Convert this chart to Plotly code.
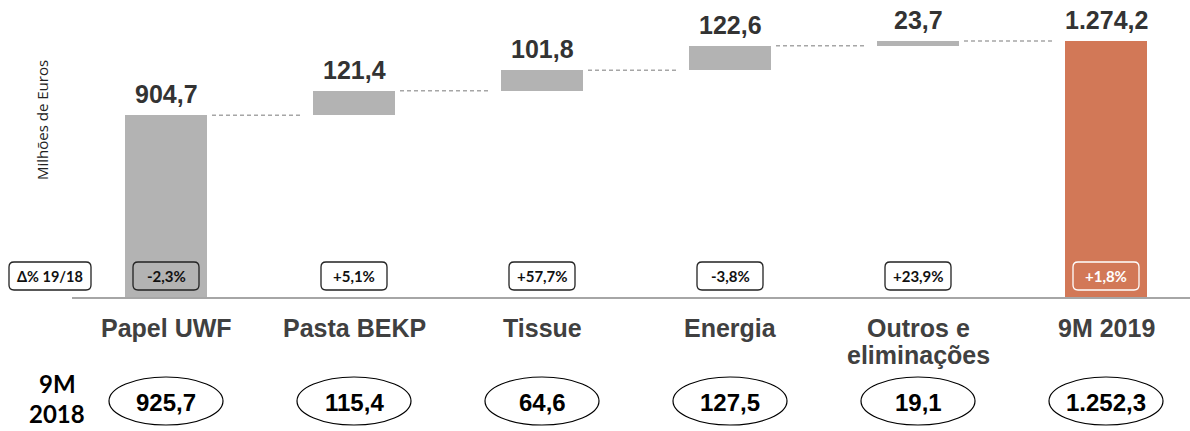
import plotly.graph_objects as go

# ---- data -------------------------------------------------------------
categories = ["Papel UWF", "Pasta BEKP", "Tissue", "Energia",
              "Outros e<br>eliminações", "9M 2019"]
values_2019 = [904.7, 121.4, 101.8, 122.6, 23.7, 1274.2]   # last entry is the total
change_pct = ["-2,3%", "+5,1%", "+57,7%", "-3,8%", "+23,9%", "+1,8%"]
values_2018 = [925.7, 115.4, 64.6, 127.5, 19.1, 1252.3]
change_title = "Δ% 19/18"
prior_title = ["9M", "2018"]
y_title = "Milhões de Euros"

GREY = "#b3b3b3"
ORANGE = "#d27857"
SANS = "Liberation Sans"
CAL = "Lato"

# ---- page geometry (pixels) ------------------------------------------
W, H = 1190, 431
ML, MB = 72, 134
PLOT_W, PLOT_H = W - ML, H - MB
UNIT_PX = 188.0                      # pixels per category step
X_MIN = -0.5
X_MAX = X_MIN + PLOT_W / UNIT_PX
Y_MAX = 1478
BAR_W = 82 / UNIT_PX


def fmt_pt(v):
    s = f"{v:,.1f}"
    return s.replace(",", "X").replace(".", ",").replace("X", ".")


def xpx_to_paper(px):
    return (px - ML) / PLOT_W


def ypx_to_paper(py):
    return (PLOT_H - py) / PLOT_H


def cat_to_paper(c):
    return (c - X_MIN) / (X_MAX - X_MIN)


def rounded_rect(x0, x1, y0, y1, r_px=5):
    """SVG path (paper coords) of a rounded rectangle; y0 is the bottom."""
    rx = r_px / PLOT_W
    ry = r_px / PLOT_H
    return (f"M{x0 + rx},{y0} L{x1 - rx},{y0} Q{x1},{y0} {x1},{y0 + ry} "
            f"L{x1},{y1 - ry} Q{x1},{y1} {x1 - rx},{y1} "
            f"L{x0 + rx},{y1} Q{x0},{y1} {x0},{y1 - ry} "
            f"L{x0},{y0 + ry} Q{x0},{y0} {x0 + rx},{y0} Z")


def label(x, y, text, size, color, family=SANS, xref="paper", yref="paper", **kw):
    d = dict(x=x, y=y, xref=xref, yref=yref, text=text, showarrow=False,
             xanchor="center", yanchor="middle",
             font=dict(family=family, size=size, color=color))
    d.update(kw)
    return d


# ---- waterfall bases --------------------------------------------------
n = len(categories)
bases, tops = [], []
running = 0.0
for i, v in enumerate(values_2019):
    if i == n - 1:
        bases.append(0.0)
        tops.append(v)
    else:
        bases.append(running)
        running += v
        tops.append(running)

xs = list(range(n))
colors = [GREY] * (n - 1) + [ORANGE]

fig = go.Figure(go.Bar(
    x=xs, y=values_2019, base=bases, width=BAR_W,
    marker=dict(color=colors, line=dict(width=0)),
    hoverinfo="skip",
))

shapes = []
annotations = []

# dashed connectors between consecutive bars
for i in range(n - 1):
    shapes.append(dict(
        type="line", xref="x", yref="y",
        x0=i + BAR_W / 2 + 5 / UNIT_PX, x1=i + 1 - BAR_W / 2 - 10 / UNIT_PX,
        y0=tops[i], y1=tops[i],
        line=dict(color="#a6a6a6", width=1.5, dash="4px,3px"),
    ))

# value labels above bars
for i in range(n):
    annotations.append(label(i, tops[i], f"<b>{fmt_pt(values_2019[i])}</b>",
                             25, "#333333", xref="x", yref="y",
                             yanchor="bottom", yshift=5))

# category labels
for i, cat in enumerate(categories):
    for k, line in enumerate(cat.split("<br>")):
        annotations.append(label(i, ypx_to_paper(328 + 27 * k), f"<b>{line}</b>",
                                 25, "#404040", xref="x"))

# change badges
BADGE_Y0, BADGE_Y1 = ypx_to_paper(290), ypx_to_paper(262)
badge_w = 66 / PLOT_W
for i, pct in enumerate(change_pct):
    cx = cat_to_paper(i)
    on_orange = i == n - 1
    edge = "#ffffff" if on_orange else "#222222"
    fill = "rgba(0,0,0,0)" if i in (0, n - 1) else "#ffffff"
    shapes.append(dict(
        type="path", xref="paper", yref="paper",
        path=rounded_rect(cx - badge_w / 2, cx + badge_w / 2, BADGE_Y0, BADGE_Y1),
        line=dict(color=edge, width=1.3), fillcolor=fill,
    ))
    annotations.append(label(cx, (BADGE_Y0 + BADGE_Y1) / 2, f"<b>{pct}</b>", 15,
                             "#ffffff" if on_orange else "#111111", family=CAL))

# legend badge for the change row
shapes.append(dict(
    type="path", xref="paper", yref="paper",
    path=rounded_rect(xpx_to_paper(9), xpx_to_paper(91), BADGE_Y0, BADGE_Y1),
    line=dict(color="#222222", width=1.3), fillcolor="#ffffff",
))
annotations.append(label(xpx_to_paper(50), (BADGE_Y0 + BADGE_Y1) / 2,
                         f"<b>{change_title}</b>", 14.5, "#111111", family=CAL))

# prior-year row: title and ellipses
for k, line in enumerate(prior_title):
    annotations.append(label(xpx_to_paper(57), ypx_to_paper(383 + 30 * k),
                             f"<b>{line}</b>", 24, "#000000", family=CAL))

ell_w = 114 / PLOT_W
for i, v in enumerate(values_2018):
    cx = cat_to_paper(i)
    shapes.append(dict(
        type="circle", xref="paper", yref="paper",
        x0=cx - ell_w / 2, x1=cx + ell_w / 2,
        y0=ypx_to_paper(425), y1=ypx_to_paper(377),
        line=dict(color="#000000", width=1.2), fillcolor="rgba(0,0,0,0)",
    ))
    annotations.append(label(cx, ypx_to_paper(402), f"<b>{fmt_pt(v)}</b>",
                             24, "#000000"))

# vertical axis caption
annotations.append(label(xpx_to_paper(42), ypx_to_paper(120), y_title, 15,
                         "#222222", family="Open Sans", textangle=-90))

fig.update_layout(
    width=W, height=H,
    margin=dict(l=ML, r=0, t=0, b=MB, pad=0),
    paper_bgcolor="#ffffff", plot_bgcolor="#ffffff",
    showlegend=False, bargap=0,
    xaxis=dict(range=[X_MIN, X_MAX], showline=True, linecolor="#a6a6a6",
               linewidth=2, showticklabels=False, ticks="", showgrid=False,
               zeroline=False, fixedrange=True),
    yaxis=dict(range=[0, Y_MAX], visible=False, fixedrange=True),
    shapes=shapes, annotations=annotations,
)

fig.write_html("out.html", config={"displayModeBar": False})
